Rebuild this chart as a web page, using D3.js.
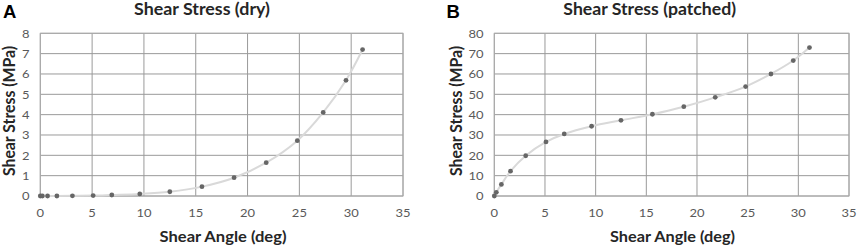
<!DOCTYPE html>
<html><head><meta charset="utf-8">
<script src="https://cdn.jsdelivr.net/npm/d3@7"></script>
<style>
body{margin:0;background:#fff;}
svg{display:block;font-family:Lato,"Open Sans",sans-serif;}
</style></head><body>
<svg id="c" width="858" height="245"></svg>
<script>
const shearAngle = [0, 0.2, 0.7, 1.6, 3.1, 5.1, 6.9, 9.6, 12.5, 15.6, 18.7, 21.8, 24.8, 27.3, 29.5, 31.1];
const stressDry = [0, 0, 0, 0, 0.01, 0.02, 0.05, 0.1, 0.21, 0.46, 0.9, 1.64, 2.72, 4.11, 5.69, 7.2];
const stressPatched = [0, 1.8, 5.7, 12.2, 19.8, 26.6, 30.5, 34.3, 37.2, 40.2, 43.9, 48.5, 53.8, 60.0, 66.6, 73.0];
const xTicks = [0, 5, 10, 15, 20, 25, 30, 35];
const yTicksDry = [0, 1, 2, 3, 4, 5, 6, 7, 8];
const yTicksPatched = [0, 10, 20, 30, 40, 50, 60, 70, 80];
const panels = [
  {letter: "A", title: "Shear Stress (dry)", values: stressDry, yTicks: yTicksDry, yMax: 8,
   x0: 40.3, x1: 403, letterX: 3, titleX: 202, titleW: 136, yLabelX: 15, xLabelX: 223, xLabelW: 127, tickEnd: 29.5},
  {letter: "B", title: "Shear Stress (patched)", values: stressPatched, yTicks: yTicksPatched, yMax: 80,
   x0: 494.3, x1: 849, letterX: 446.5, titleX: 649.7, titleW: 172.7, yLabelX: 461.8, xLabelX: 672.5, xLabelW: 125, tickEnd: 483.5}
];
const svg = d3.select("#c");
const plotTop = 33.3, plotBottom = 196;

// text fitted to a measured width along its own direction
function fitted(g, x, y, str, size, width, rotate) {
  const t = g.append("text").attr("text-anchor", "middle").attr("font-size", size)
    .attr("font-weight", "bold").attr("fill", "#262626").text(str);
  const k = width / t.node().getComputedTextLength();
  t.attr("transform", `translate(${x},${y})${rotate ? " rotate(-90)" : ""} scale(${k},1)`);
  return t;
}

panels.forEach(p => {
  const g = svg.append("g");
  const x = d3.scaleLinear().domain([0, 35]).range([p.x0, p.x1]);
  const y = d3.scaleLinear().domain([0, p.yMax]).range([plotBottom, plotTop]);
  g.selectAll(".gx").data(xTicks).join("line")
    .attr("x1", d => x(d)).attr("x2", d => x(d)).attr("y1", plotTop).attr("y2", plotBottom)
    .attr("stroke", "#9a9a9a").attr("stroke-width", 1);
  g.selectAll(".gy").data(p.yTicks).join("line")
    .attr("x1", p.x0).attr("x2", p.x1).attr("y1", d => y(d)).attr("y2", d => y(d))
    .attr("stroke", "#9a9a9a").attr("stroke-width", 1);
  g.append("rect").attr("x", p.x0).attr("y", plotTop).attr("width", p.x1 - p.x0).attr("height", plotBottom - plotTop)
    .attr("fill", "none").attr("stroke", "#aaa").attr("stroke-width", 1);
  g.selectAll(".tx").data(xTicks).join("text")
    .attr("transform", d => `translate(${x(d)},217) scale(1.12,1)`)
    .attr("text-anchor", "middle").attr("font-size", 11.6).attr("fill", "#595959").text(d => d);
  g.selectAll(".ty").data(p.yTicks).join("text")
    .attr("transform", d => `translate(${p.tickEnd},${y(d) + 4.2}) scale(1.12,1)`)
    .attr("text-anchor", "end").attr("font-size", 11.6).attr("fill", "#595959").text(d => d);
  const pts = shearAngle.map((a, i) => [a, p.values[i]]);
  g.append("path").datum(pts)
    .attr("d", d3.line().x(d => x(d[0])).y(d => y(d[1])).curve(d3.curveCatmullRom.alpha(0.5)))
    .attr("fill", "none").attr("stroke", "#d9d9d9").attr("stroke-width", 2);
  g.selectAll(".pt").data(pts).join("circle")
    .attr("cx", d => x(d[0])).attr("cy", d => y(d[1])).attr("r", 2.4).attr("fill", "#666");
  fitted(g, p.titleX, 14.8, p.title, 16.2, p.titleW, false);
  g.append("text").attr("x", p.letterX).attr("y", 18.4)
    .attr("font-family", "Liberation Sans, Arial, sans-serif")
    .attr("font-size", 18.5).attr("font-weight", "bold").attr("fill", "#000").text(p.letter);
  fitted(g, p.yLabelX, 111, "Shear Stress (MPa)", 16.2, 130, true);
  fitted(g, p.xLabelX, 242.3, "Shear Angle (deg)", 15.6, p.xLabelW, false);
});
</script>
</body></html>
